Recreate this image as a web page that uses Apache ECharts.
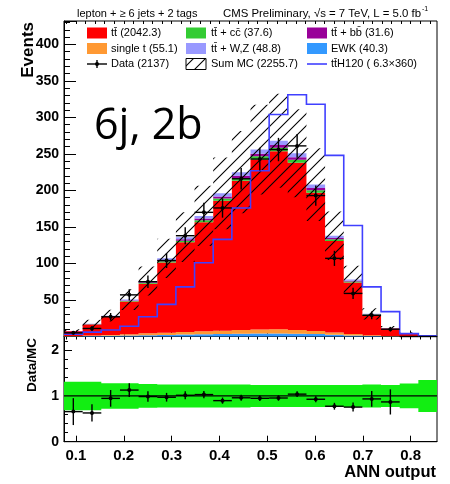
<!DOCTYPE html>
<html>
<head>
<meta charset="utf-8">
<script src="https://cdn.jsdelivr.net/npm/echarts@6/dist/echarts.min.js"></script>
<style>
  html, body { margin: 0; padding: 0; background: #ffffff; }
  #chart { width: 450px; height: 484px; }
</style>
</head>
<body>
<div id="chart"></div>
<script>
// ANN output binning: 20 bins between xMin and xMax
const xMin = 0.075;
const xMax = 0.855;
const binWidth = 0.039;
const xTickLabels = [0.1, 0.2, 0.3, 0.4, 0.5, 0.6, 0.7, 0.8];

// Expected events per bin, stacked bottom to top
const ewk       = [0.3, 0.6, 0.9, 1.3, 1.8, 2.2, 2.6, 3.0, 3.4, 3.8, 4.0, 4.2, 3.8, 3.4, 2.4, 1.5, 0.6, 0.3, 0.1, 0.1];
const singleTop = [0.4, 0.9, 1.3, 1.9, 2.5, 3.1, 3.7, 4.2, 4.6, 5.0, 5.6, 5.8, 5.0, 4.3, 3.2, 2.0, 1.0, 0.4, 0.1, 0.1];
const ttbar     = [6.5, 15.1, 24.8, 44.7, 67.9, 96.1, 122.7, 149.3, 177.9, 204.3, 232.9, 243.8, 229.0, 189.1, 125.0, 70.4, 27.9, 10.2, 4.3, 0.4];
const ttcc      = [0.1, 0.3, 0.5, 0.8, 1.2, 1.8, 2.2, 2.7, 3.2, 3.8, 4.3, 4.5, 4.2, 3.6, 2.4, 1.3, 0.5, 0.2, 0.0, 0.0];
const ttbb      = [0.1, 0.2, 0.4, 0.7, 1.0, 1.5, 1.9, 2.3, 2.7, 3.2, 3.6, 3.8, 3.5, 3.0, 2.0, 1.1, 0.4, 0.2, 0.0, 0.0];
const ttVZ      = [0.2, 0.4, 0.6, 1.1, 1.6, 2.3, 2.9, 3.5, 4.2, 4.9, 5.6, 5.9, 5.5, 4.6, 3.0, 1.7, 0.6, 0.2, 0.0, 0.0];

// Relative uncertainty of the summed expectation per bin
const mcRelErr  = [0.31, 0.31, 0.28, 0.28, 0.26, 0.25, 0.25, 0.25, 0.25, 0.25, 0.24, 0.24, 0.24, 0.24, 0.24, 0.24, 0.25, 0.24, 0.27, 0.35];

// Observed events
const dataCounts = [5, 11, 27, 57, 75, 104, 138, 170, 176, 216, 243, 256, 261, 193, 107, 59, 29, 10, 0, 0];

// Signal shape ttH (mH = 120), scaled by 360
const ttH120    = [3, 6, 9, 14, 27, 44, 68, 101, 133, 176, 227, 304, 331, 318, 248, 152, 68, 34, 4, 1];
const ttHScale  = 360;

const nBins = dataCounts.length;
const edges = [];
for (let i = 0; i <= nBins; i++) edges.push(xMin + i * binWidth);
const sum = a => a.reduce((s, v) => s + v, 0);

// stack components (bottom to top)
const stackDefs = [
  { values: ewk,       color: '#3399ff' },
  { values: singleTop, color: '#ff9933' },
  { values: ttbar,     color: '#ff0000' },
  { values: ttcc,      color: '#33cc33' },
  { values: ttbb,      color: '#990099' },
  { values: ttVZ,      color: '#9999ff' }
];
const cumulative = [];
let running = new Array(nBins).fill(0);
stackDefs.forEach(d => {
  const lo = running.slice();
  const hi = running.map((v, i) => v + d.values[i]);
  cumulative.push({ lo, hi, color: d.color });
  running = hi;
});
const mcTotal = running;
const mcTotalSum = sum(mcTotal);

// diagonal hatch pattern
function makeHatch(size) {
  const c = document.createElement('canvas');
  c.width = size; c.height = size;
  const g = c.getContext('2d');
  g.strokeStyle = '#000';
  g.lineWidth = 1.1;
  g.beginPath();
  g.moveTo(-1, size + 1); g.lineTo(size + 1, -1);
  g.moveTo(-1, 1); g.lineTo(1, -1);
  g.moveTo(size - 1, size + 1); g.lineTo(size + 1, size - 1);
  g.stroke();
  return c;
}
const hatch = makeHatch(12);

function stepBand(api, lo, hi) {
  const pts = [];
  for (let i = 0; i < nBins; i++) {
    pts.push(api.coord([edges[i], hi[i]]));
    pts.push(api.coord([edges[i + 1], hi[i]]));
  }
  for (let i = nBins - 1; i >= 0; i--) {
    pts.push(api.coord([edges[i + 1], lo[i]]));
    pts.push(api.coord([edges[i], lo[i]]));
  }
  return pts;
}
function stepLine(api, vals) {
  const pts = [];
  for (let i = 0; i < nBins; i++) {
    pts.push(api.coord([edges[i], vals[i]]));
    pts.push(api.coord([edges[i + 1], vals[i]]));
  }
  return pts;
}

const series = [];

// stacked expectation
cumulative.forEach(c => {
  series.push({
    type: 'custom', xAxisIndex: 0, yAxisIndex: 0, silent: true,
    data: [[xMin, 0]],
    renderItem: (params, api) => ({
      type: 'polygon',
      shape: { points: stepBand(api, c.lo, c.hi) },
      style: { fill: c.color, stroke: null }
    })
  });
});

// uncertainty band on the summed expectation (hatched)
series.push({
  type: 'custom', xAxisIndex: 0, yAxisIndex: 0, silent: true,
  data: [[xMin, 0]],
  renderItem: (params, api) => ({
    type: 'polygon',
    shape: { points: stepBand(api,
      mcTotal.map((v, i) => v * (1 - mcRelErr[i])),
      mcTotal.map((v, i) => v * (1 + mcRelErr[i]))) },
    style: { fill: { image: hatch, repeat: 'repeat' }, stroke: null }
  })
});

// ttH signal outline
series.push({
  type: 'custom', xAxisIndex: 0, yAxisIndex: 0, silent: true,
  data: [[xMin, 0]],
  renderItem: (params, api) => ({
    type: 'polyline',
    shape: { points: stepLine(api, ttH120) },
    style: { stroke: '#4040ff', lineWidth: 1.6, fill: null }
  })
});

// data points with error bars
function errorMarker(api, i, y, err, showVertical) {
  const xl = api.coord([edges[i], y]);
  const xr = api.coord([edges[i + 1], y]);
  const c = api.coord([(edges[i] + edges[i + 1]) / 2, y]);
  const children = [
    { type: 'line', shape: { x1: xl[0], y1: xl[1], x2: xr[0], y2: xr[1] }, style: { stroke: '#000', lineWidth: 1.4 } }
  ];
  if (showVertical) {
    const top = api.coord([(edges[i] + edges[i + 1]) / 2, y + err]);
    const bot = api.coord([(edges[i] + edges[i + 1]) / 2, Math.max(0, y - err)]);
    children.push({ type: 'line', shape: { x1: top[0], y1: top[1], x2: bot[0], y2: bot[1] }, style: { stroke: '#000', lineWidth: 1.4 } });
    children.push({ type: 'circle', shape: { cx: c[0], cy: c[1], r: 2 }, style: { fill: '#000' } });
  }
  return { type: 'group', children };
}
series.push({
  type: 'custom', xAxisIndex: 0, yAxisIndex: 0, silent: true,
  data: dataCounts.map((v, i) => [(edges[i] + edges[i + 1]) / 2, v]),
  renderItem: (params, api) => {
    const i = params.dataIndex;
    const n = dataCounts[i];
    return errorMarker(api, i, n, Math.sqrt(n), n > 0);
  }
});

// ratio panel: uncertainty band and unity line
series.push({
  type: 'custom', xAxisIndex: 2, yAxisIndex: 1, silent: true,
  data: [[xMin, 1]],
  renderItem: (params, api) => {
    const a = api.coord([xMin, 1]);
    const b = api.coord([xMax, 1]);
    return {
      type: 'group',
      children: [
        { type: 'polygon', shape: { points: stepBand(api, mcRelErr.map(e => 1 - e), mcRelErr.map(e => 1 + e)) }, style: { fill: '#12ee12', stroke: null } },
        { type: 'line', shape: { x1: a[0], y1: a[1], x2: b[0], y2: b[1] }, style: { stroke: '#000', lineWidth: 1.2 } }
      ]
    };
  }
});

// ratio points
const ratio = dataCounts.map((n, i) => n / mcTotal[i]);
series.push({
  type: 'custom', xAxisIndex: 2, yAxisIndex: 1, silent: true,
  data: ratio.map((r, i) => [(edges[i] + edges[i + 1]) / 2, r]),
  renderItem: (params, api) => {
    const i = params.dataIndex;
    const n = dataCounts[i];
    if (n <= 0) return null;
    return errorMarker(api, i, ratio[i], Math.sqrt(n) / mcTotal[i], true);
  }
});

// tick positions along ANN output
const minorX = [];
for (let k = 4; k <= 42; k++) minorX.push(+(k * 0.02).toFixed(2));

const baseFont = 'Liberation Sans, Arial, Helvetica, sans-serif';
function xAxisDef(gridIndex, major, withLabels) {
  return {
    type: 'value', gridIndex, min: xMin, max: xMax,
    axisLine: { show: major, lineStyle: { color: '#000', width: 1 } },
    axisTick: { show: true, inside: true, length: major ? 6 : 3, customValues: major ? xTickLabels : minorX, lineStyle: { color: '#000', width: 1 } },
    axisLabel: {
      show: withLabels, customValues: xTickLabels, margin: 7,
      color: '#000', fontFamily: baseFont, fontWeight: 'bold', fontSize: 15,
      formatter: v => v.toFixed(1)
    },
    splitLine: { show: false }
  };
}

const legendRows = [
  [{ kind: 'box', color: '#ff0000', text: 'tt\u0304 (' + sum(ttbar).toFixed(1) + ')' },
   { kind: 'box', color: '#33cc33', text: 'tt\u0304 + cc\u0304 (' + sum(ttcc).toFixed(1) + ')' },
   { kind: 'box', color: '#990099', text: 'tt\u0304 + bb\u0304 (' + sum(ttbb).toFixed(1) + ')' }],
  [{ kind: 'box', color: '#ff9933', text: 'single t (' + sum(singleTop).toFixed(1) + ')' },
   { kind: 'box', color: '#9999ff', text: 'tt\u0304 + W,Z (' + sum(ttVZ).toFixed(1) + ')' },
   { kind: 'box', color: '#3399ff', text: 'EWK (' + sum(ewk).toFixed(1) + ')' }],
  [{ kind: 'data', text: 'Data (' + sum(dataCounts) + ')' },
   { kind: 'hatch', text: 'Sum MC (' + mcTotalSum.toFixed(1) + ')' },
   { kind: 'line', color: '#4040ff', text: 'tt\u0304H120 ( ' + (sum(ttH120) / ttHScale).toFixed(1) + '\u00d7' + ttHScale + ')' }]
];
const colBoxX = [87, 186, 307];
const colTextX = [111, 211, 331];
const rowY = [33, 48.5, 64];
const legendGraphics = [];
legendRows.forEach((row, r) => {
  row.forEach((e, c) => {
    const bx = colBoxX[c], y = rowY[r];
    if (e.kind === 'box') {
      legendGraphics.push({ type: 'rect', shape: { x: bx, y: y - 5.5, width: 20, height: 11 }, style: { fill: e.color } });
    } else if (e.kind === 'hatch') {
      legendGraphics.push({ type: 'rect', shape: { x: bx, y: y - 5.5, width: 20, height: 11 }, style: { fill: { image: hatch, repeat: 'repeat' }, stroke: '#000', lineWidth: 1 } });
    } else if (e.kind === 'line') {
      legendGraphics.push({ type: 'line', shape: { x1: bx, y1: y, x2: bx + 20, y2: y }, style: { stroke: e.color, lineWidth: 1.6 } });
    } else {
      legendGraphics.push({ type: 'line', shape: { x1: bx, y1: y, x2: bx + 20, y2: y }, style: { stroke: '#000', lineWidth: 1.4 } });
      legendGraphics.push({ type: 'line', shape: { x1: bx + 10, y1: y - 4, x2: bx + 10, y2: y + 4 }, style: { stroke: '#000', lineWidth: 1.4 } });
      legendGraphics.push({ type: 'circle', shape: { cx: bx + 10, cy: y, r: 2 }, style: { fill: '#000' } });
    }
    legendGraphics.push({ type: 'text', x: colTextX[c], y, style: { text: e.text, fill: '#000', font: '11px ' + baseFont, verticalAlign: 'middle', align: 'left' } });
  });
});

const chart = echarts.init(document.getElementById('chart'), null, { renderer: 'canvas' });
chart.setOption({
  animation: false,
  backgroundColor: '#ffffff',
  grid: [
    { left: 64, top: 21, width: 373, height: 315.5, show: true, borderColor: '#000', borderWidth: 1, backgroundColor: 'transparent' },
    { left: 64, top: 336.5, width: 373, height: 105.2, show: true, borderColor: '#000', borderWidth: 1, backgroundColor: 'transparent' }
  ],
  xAxis: [
    xAxisDef(0, true, false),
    xAxisDef(0, false, false),
    xAxisDef(1, true, true),
    xAxisDef(1, false, false)
  ],
  yAxis: [
    {
      type: 'value', gridIndex: 0, min: 0, max: 432, interval: 50,
      axisLine: { show: true, lineStyle: { color: '#000' } },
      axisTick: { inside: true, length: 12, lineStyle: { color: '#000' } },
      minorTick: { show: true, splitNumber: 5, length: 6, lineStyle: { color: '#000' } },
      axisLabel: { margin: 5, showMaxLabel: false, color: '#000', fontFamily: baseFont, fontWeight: 'bold', fontSize: 14,
        formatter: v => (v === 0 || v % 50 !== 0 ? '' : String(v)) },
      splitLine: { show: false }
    },
    {
      type: 'value', gridIndex: 1, min: 0, max: 2.3, interval: 1,
      axisLine: { show: true, lineStyle: { color: '#000' } },
      axisTick: { inside: true, length: 8, lineStyle: { color: '#000' } },
      minorTick: { show: true, splitNumber: 5, length: 4, lineStyle: { color: '#000' } },
      axisLabel: { margin: 5, showMaxLabel: false, color: '#000', fontFamily: baseFont, fontWeight: 'bold', fontSize: 14,
        formatter: v => (Number.isInteger(v) ? String(v) : '') },
      splitLine: { show: false }
    }
  ],
  series,
  graphic: [
    { type: 'text', x: 77, y: 14, style: { text: 'lepton + \u2265 6 jets + 2 tags', fill: '#000', font: '11px ' + baseFont, verticalAlign: 'middle' } },
    { type: 'text', x: 223, y: 14, style: { text: 'CMS Preliminary, \u221As = 7 TeV, L = 5.0 fb', fill: '#000', font: '11.4px ' + baseFont, verticalAlign: 'middle' } },
    { type: 'text', x: 422, y: 9.5, style: { text: '-1', fill: '#000', font: '7px ' + baseFont, verticalAlign: 'middle' } },
    { type: 'text', x: 28, y: 22, rotation: Math.PI / 2, style: { text: 'Events', fill: '#000', font: 'bold 17px ' + baseFont, align: 'right', verticalAlign: 'middle' } },
    { type: 'text', x: 32, y: 338, rotation: Math.PI / 2, style: { text: 'Data/MC', fill: '#000', font: 'bold 13.5px ' + baseFont, align: 'right', verticalAlign: 'middle' } },
    { type: 'text', x: 436, y: 472, style: { text: 'ANN output', fill: '#000', font: 'bold 16.5px ' + baseFont, align: 'right', verticalAlign: 'middle' } },
    { type: 'text', x: 94, y: 127, style: { text: '6j, 2b', fill: '#000', font: '43px "Open Sans", "Noto Sans", sans-serif', verticalAlign: 'middle' } }
  ].concat(legendGraphics)
});
</script>
</body>
</html>
